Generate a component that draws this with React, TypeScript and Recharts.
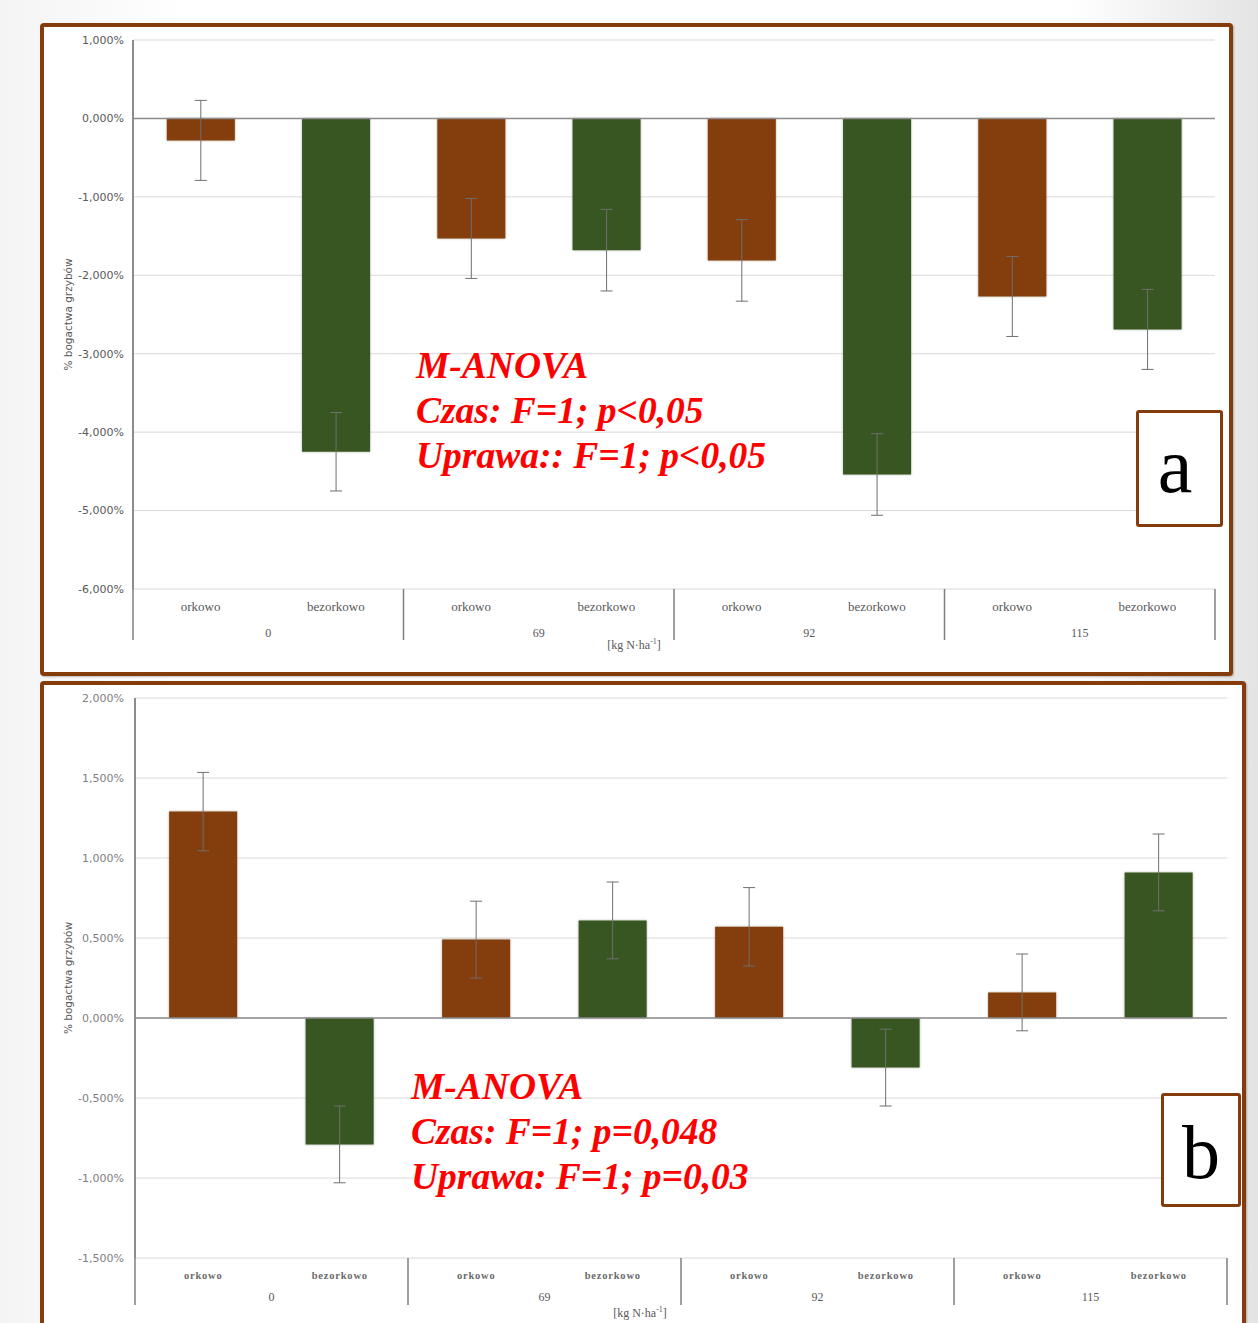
import { BarChart, Bar, Cell, XAxis, YAxis, CartesianGrid, ReferenceLine, ErrorBar } from 'recharts'

const doses = ['0', '69', '92', '115']
const tillage = ['orkowo', 'bezorkowo']

// panel a – change in fungal richness
const valuesA = [-0.28, -4.25, -1.53, -1.68, -1.81, -4.54, -2.27, -2.69]
const errorsA = [0.51, 0.5, 0.51, 0.52, 0.52, 0.52, 0.51, 0.51]
const ticksA = [-6, -5, -4, -3, -2, -1, 0, 1]

// panel b
const valuesB = [1.29, -0.79, 0.49, 0.61, 0.57, -0.31, 0.16, 0.91]
const errorsB = [0.245, 0.24, 0.24, 0.24, 0.245, 0.24, 0.24, 0.24]
const ticksB = [-1.5, -1, -0.5, 0, 0.5, 1, 1.5, 2]

const statsA = ['M-ANOVA', 'Czas: F=1; p<0,05', 'Uprawa:: F=1; p<0,05']
const statsB = ['M-ANOVA', 'Czas: F=1; p=0,048', 'Uprawa: F=1; p=0,03']

const BROWN = '#843c0c'
const GREEN = '#385723'
const barColors = [BROWN, GREEN]

const buildRows = (values: number[], errors: number[]) =>
  doses.flatMap((dose, d) =>
    tillage.map((till, t) => {
      const i = d * 2 + t
      return { id: `${dose}-${till}`, dose, till, value: values[i], err: errors[i] }
    })
  )

const rowsA = buildRows(valuesA, errorsA)
const rowsB = buildRows(valuesB, errorsB)

const pct = (v: number) => `${v.toFixed(3).replace('.', ',')}%`

const serif = '"Liberation Serif", "Times New Roman", serif'
const sans = '"DejaVu Sans", Tahoma, sans-serif'

interface TickCfg {
  bw: number
  labelDy: number
  groupDy: number
  lineLen: number
  fontSize: number
  bold?: boolean
  spacing?: number
  color?: string
}

function CatTick(props: any) {
  const { x, y, payload, index, cfg, rows } = props as { x: number; y: number; payload: any; index: number; cfg: TickCfg; rows: any[] }
  const row = rows[index]
  const half = cfg.bw / 2
  return (
    <g>
      <text
        x={x}
        y={y + cfg.labelDy}
        textAnchor="middle"
        fontFamily={serif}
        fontSize={cfg.fontSize}
        fontWeight={cfg.bold ? 'bold' : 'normal'}
        letterSpacing={cfg.spacing ?? 0}
        fill={cfg.color ?? '#595959'}
      >
        {row ? row.till : payload.value}
      </text>
      {index % 2 === 0 && (
        <line x1={x - half} x2={x - half} y1={y} y2={y + cfg.lineLen} stroke="#7f7f7f" strokeWidth={1.5} />
      )}
      {index % 2 === 1 && (
        <text x={x - half} y={y + cfg.groupDy} textAnchor="middle" fontFamily={serif} fontSize={12} fill="#595959">
          {row?.dose}
        </text>
      )}
      {index === rows.length - 1 && (
        <line x1={x + half} x2={x + half} y1={y} y2={y + cfg.lineLen} stroke="#7f7f7f" strokeWidth={1.5} />
      )}
    </g>
  )
}

interface PanelProps {
  rows: any[]
  ticks: number[]
  width: number
  height: number
  margin: { top: number; right: number; bottom: number; left: number }
  yWidth: number
  tickGap: number
  tickColor: string
  cfg: TickCfg
  titleX: number
  titleY: number
}

function Panel({ rows, ticks, width, height, margin, yWidth, tickGap, tickColor, cfg, titleX, titleY }: PanelProps) {
  return (
    <BarChart width={width} height={height} data={rows} margin={margin} barCategoryGap="25%">
      <defs>
        <filter id="barShadow" x="-10%" y="-10%" width="120%" height="120%">
          <feDropShadow dx="0" dy="0" stdDeviation="1.2" floodColor="#000" floodOpacity="0.35" />
        </filter>
      </defs>
      <CartesianGrid horizontal vertical={false} stroke="#d9d9d9" strokeWidth={1} />
      <XAxis
        dataKey="id"
        interval={0}
        axisLine={false}
        tickLine={false}
        tickSize={0}
        tickMargin={0}
        height={55}
        tick={(p: any) => <CatTick {...p} cfg={cfg} rows={rows} />}
        label={{
          content: () => (
            <text x={titleX} y={titleY} textAnchor="middle" fontFamily={serif} fontSize={12} fill="#595959">
              [kg N·ha
              <tspan fontSize={8} dy={-5}>-1</tspan>
              <tspan dy={5}>]</tspan>
            </text>
          ),
        }}
      />
      <YAxis
        width={yWidth}
        domain={[ticks[0], ticks[ticks.length - 1]]}
        ticks={ticks}
        interval={0}
        tickFormatter={pct}
        tickLine={false}
        tickSize={0}
        tickMargin={tickGap}
        axisLine={{ stroke: '#8c8c8c', strokeWidth: 2 }}
        tick={{ fontSize: 11, fill: tickColor, fontFamily: sans }}
        label={{
          content: (lp: any) => {
            const vb = lp.viewBox
            const cx = 24
            const cy = vb.y + vb.height / 2
            return (
              <text
                x={cx}
                y={cy}
                transform={`rotate(-90 ${cx} ${cy})`}
                textAnchor="middle"
                dominantBaseline="central"
                fontFamily={sans}
                fontSize={10.5}
                fill="#595959"
              >
                % bogactwa grzybów
              </text>
            )
          },
        }}
      />
      <ReferenceLine y={0} stroke="#8c8c8c" strokeWidth={1.5} />
      <Bar dataKey="value" isAnimationActive={false}>
        {rows.map((r, i) => (
          <Cell key={r.id} fill={barColors[i % 2]} filter="url(#barShadow)" />
        ))}
        <ErrorBar dataKey="err" width={6} stroke="#6f6f6f" strokeWidth={1} direction="y" />
      </Bar>
    </BarChart>
  )
}

const panelBox = (left: number, top: number, width: number, height: number): React.CSSProperties => ({
  position: 'absolute',
  left,
  top,
  width,
  height,
  boxSizing: 'border-box',
  border: `4px solid ${BROWN}`,
  borderRadius: 4,
  background: '#ffffff',
  boxShadow: '1px 1px 2px rgba(0,0,0,0.25)',
})

const letterBox = (left: number, top: number, width: number, height: number): React.CSSProperties => ({
  position: 'absolute',
  left,
  top,
  width,
  height,
  boxSizing: 'border-box',
  border: `3px solid ${BROWN}`,
  borderRadius: 3,
  background: '#ffffff',
})

export default function App() {
  return (
    <div
      style={{
        position: 'absolute',
        left: 0,
        top: 0,
        width: 1258,
        height: 1323,
        overflow: 'hidden',
        background: 'linear-gradient(to right, #f4f4f4 0%, #ffffff 15%, #ffffff 85%, #e4e4e4 100%)',
      }}
    >
      {/* panel a */}
      <div style={panelBox(40, 23, 1193, 653)} />
      <div style={{ position: 'absolute', left: 44, top: 27 }}>
        <Panel
          rows={rowsA}
          ticks={ticksA}
          width={1185}
          height={645}
          margin={{ top: 13, right: 14, bottom: 28, left: 20 }}
          yWidth={69}
          tickGap={9}
          tickColor="#595959"
          cfg={{ bw: 135.25, labelDy: 22, groupDy: 48, lineLen: 51, fontSize: 13 }}
          titleX={590}
          titleY={622}
        />
      </div>

      {/* panel b */}
      <div style={panelBox(40, 681, 1206, 670)} />
      <div style={{ position: 'absolute', left: 44, top: 686 }}>
        <Panel
          rows={rowsB}
          ticks={ticksB}
          width={1196}
          height={637}
          margin={{ top: 12, right: 13, bottom: 10, left: 20 }}
          yWidth={71}
          tickGap={11}
          tickColor="#808080"
          cfg={{ bw: 136.5, labelDy: 21, groupDy: 43, lineLen: 47, fontSize: 10.5, bold: true, spacing: 0.8, color: '#6b6b6b' }}
          titleX={596}
          titleY={631}
        />
      </div>

      {/* letter boxes */}
      <div style={letterBox(1136, 410, 87, 117)} />
      <div style={letterBox(1161, 1093, 80, 114)} />

      <svg width={1258} height={1323} style={{ position: 'absolute', left: 0, top: 0, pointerEvents: 'none' }}>
        <text x={1175} y={492} textAnchor="middle" fontFamily={serif} fontSize={78} fill="#000">
          a
        </text>
        <text x={1201} y={1178} textAnchor="middle" fontFamily={serif} fontSize={76} fill="#000">
          b
        </text>
        {statsA.map((s, i) => (
          <text key={s} x={416} y={378 + i * 45} fontFamily={serif} fontStyle="italic" fontWeight="bold" fontSize={37.5} fill="#ff0000">
            {s}
          </text>
        ))}
        {statsB.map((s, i) => (
          <text key={s} x={411} y={1099 + i * 45} fontFamily={serif} fontStyle="italic" fontWeight="bold" fontSize={37.5} fill="#ff0000">
            {s}
          </text>
        ))}
      </svg>
    </div>
  )
}
